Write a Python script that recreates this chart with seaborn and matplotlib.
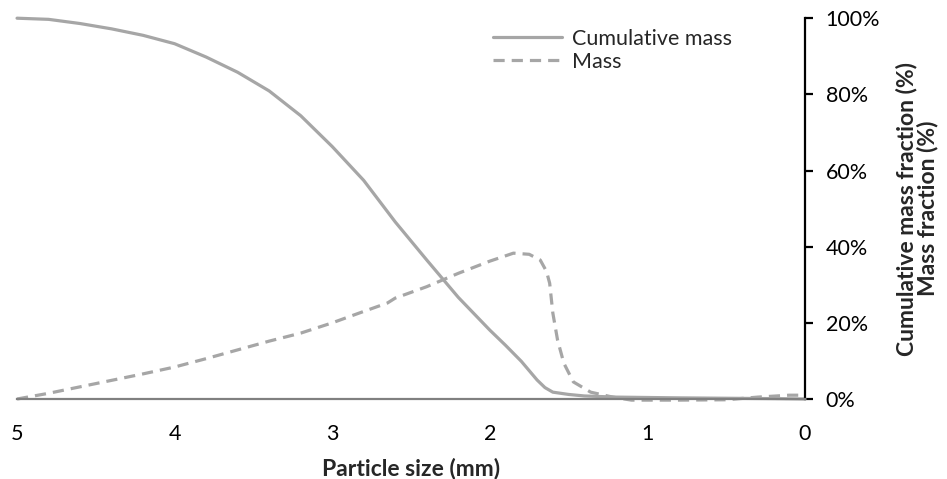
import pandas as pd
import matplotlib
matplotlib.use("Agg")
import matplotlib.pyplot as plt
import seaborn as sns
from matplotlib.ticker import PercentFormatter

# particle size (mm) and fractions (%)
size_cum = [5.0, 4.8, 4.6, 4.4, 4.2, 4.0, 3.8, 3.6, 3.4, 3.2, 3.0, 2.8, 2.6, 2.4,
            2.2, 2.0, 1.9, 1.8, 1.7, 1.65, 1.6, 1.5, 1.4, 1.2, 1.0, 0.8, 0.5, 0.2, 0.0]
cumulative = [100, 99.7, 98.6, 97.2, 95.5, 93.3, 89.8, 85.8, 80.9, 74.4, 66.3, 57.4,
              46.5, 36.5, 26.7, 18.1, 14.1, 9.9, 5.0, 3.0, 1.8, 1.2, 0.8, 0.5, 0.4,
              0.3, 0.2, 0.1, 0.0]

size_mass = [5.0, 4.8, 4.6, 4.4, 4.2, 4.0, 3.8, 3.6, 3.4, 3.2, 3.0, 2.8, 2.65, 2.6,
             2.4, 2.2, 2.0, 1.85, 1.75, 1.68, 1.64, 1.62, 1.60, 1.57, 1.53, 1.47,
             1.36, 1.22, 1.1, 0.8, 0.5, 0.3, 0.1, 0.0]
mass = [0.0, 1.5, 3.2, 4.9, 6.6, 8.4, 10.6, 12.9, 15.2, 17.3, 20.0, 23.0, 25.2, 26.5,
        29.5, 33.0, 36.2, 38.3, 38.0, 36.5, 33.5, 30.4, 22.6, 15.5, 9.4, 4.5,
        1.8, 0.5, -0.3, -0.3, -0.2, 0.5, 1.0, 1.0]

df_cum = pd.DataFrame({"size": size_cum, "value": [v / 100 for v in cumulative]})
df_mass = pd.DataFrame({"size": size_mass, "value": [v / 100 for v in mass]})

sns.set_style("white")
plt.rcParams["font.family"] = ["Lato", "DejaVu Sans"]

fig, ax = plt.subplots(figsize=(9.47, 4.79), dpi=100)
fig.subplots_adjust(left=0.018, right=0.850, bottom=0.167, top=0.962)

grey = "#a6a6a6"
sns.lineplot(data=df_cum, x="size", y="value", ax=ax, color=grey, linewidth=2.3,
             label="Cumulative mass", sort=False, clip_on=False)
sns.lineplot(data=df_mass, x="size", y="value", ax=ax, color=grey, linewidth=2.3,
             linestyle=(0, (3.5, 2.2)), label="Mass", sort=False, clip_on=False)

ax.set_xlim(5, 0)
ax.set_ylim(0, 1)
ax.set_xticks([5, 4, 3, 2, 1, 0])
ax.set_xticklabels(["5", "4", "3", "2", "1", "0"])
ax.set_yticks([0, 0.2, 0.4, 0.6, 0.8, 1.0])
ax.yaxis.set_major_formatter(PercentFormatter(1.0, decimals=0))

ax.yaxis.tick_right()
ax.yaxis.set_label_position("right")
for s in ["top", "left"]:
    ax.spines[s].set_visible(False)
ax.spines["right"].set_color("black")
ax.spines["right"].set_linewidth(1.6)
ax.spines["bottom"].set_color("#808080")
ax.spines["bottom"].set_linewidth(1.6)

ax.tick_params(axis="x", length=0, pad=18, labelsize=15.5, colors="#000000")
ax.tick_params(axis="y", direction="out", length=6, width=1.6, pad=9,
               labelsize=15.5, colors="#000000", left=False, right=True)

ax.set_xlabel("Particle size (mm)", fontsize=16.5, fontweight="bold", labelpad=10)
ax.set_ylabel("Cumulative mass fraction (%)\nMass fraction (%)", fontsize=16.5,
              fontweight="bold", labelpad=11, linespacing=0.95)

ax.legend(loc="upper left", bbox_to_anchor=(0.521, 0.94),
          bbox_transform=fig.transFigure, frameon=False, fontsize=15.5,
          handlelength=3.2, handletextpad=0.45, labelspacing=0.15,
          borderpad=0, borderaxespad=0)

fig.savefig("out.png", dpi=100)
